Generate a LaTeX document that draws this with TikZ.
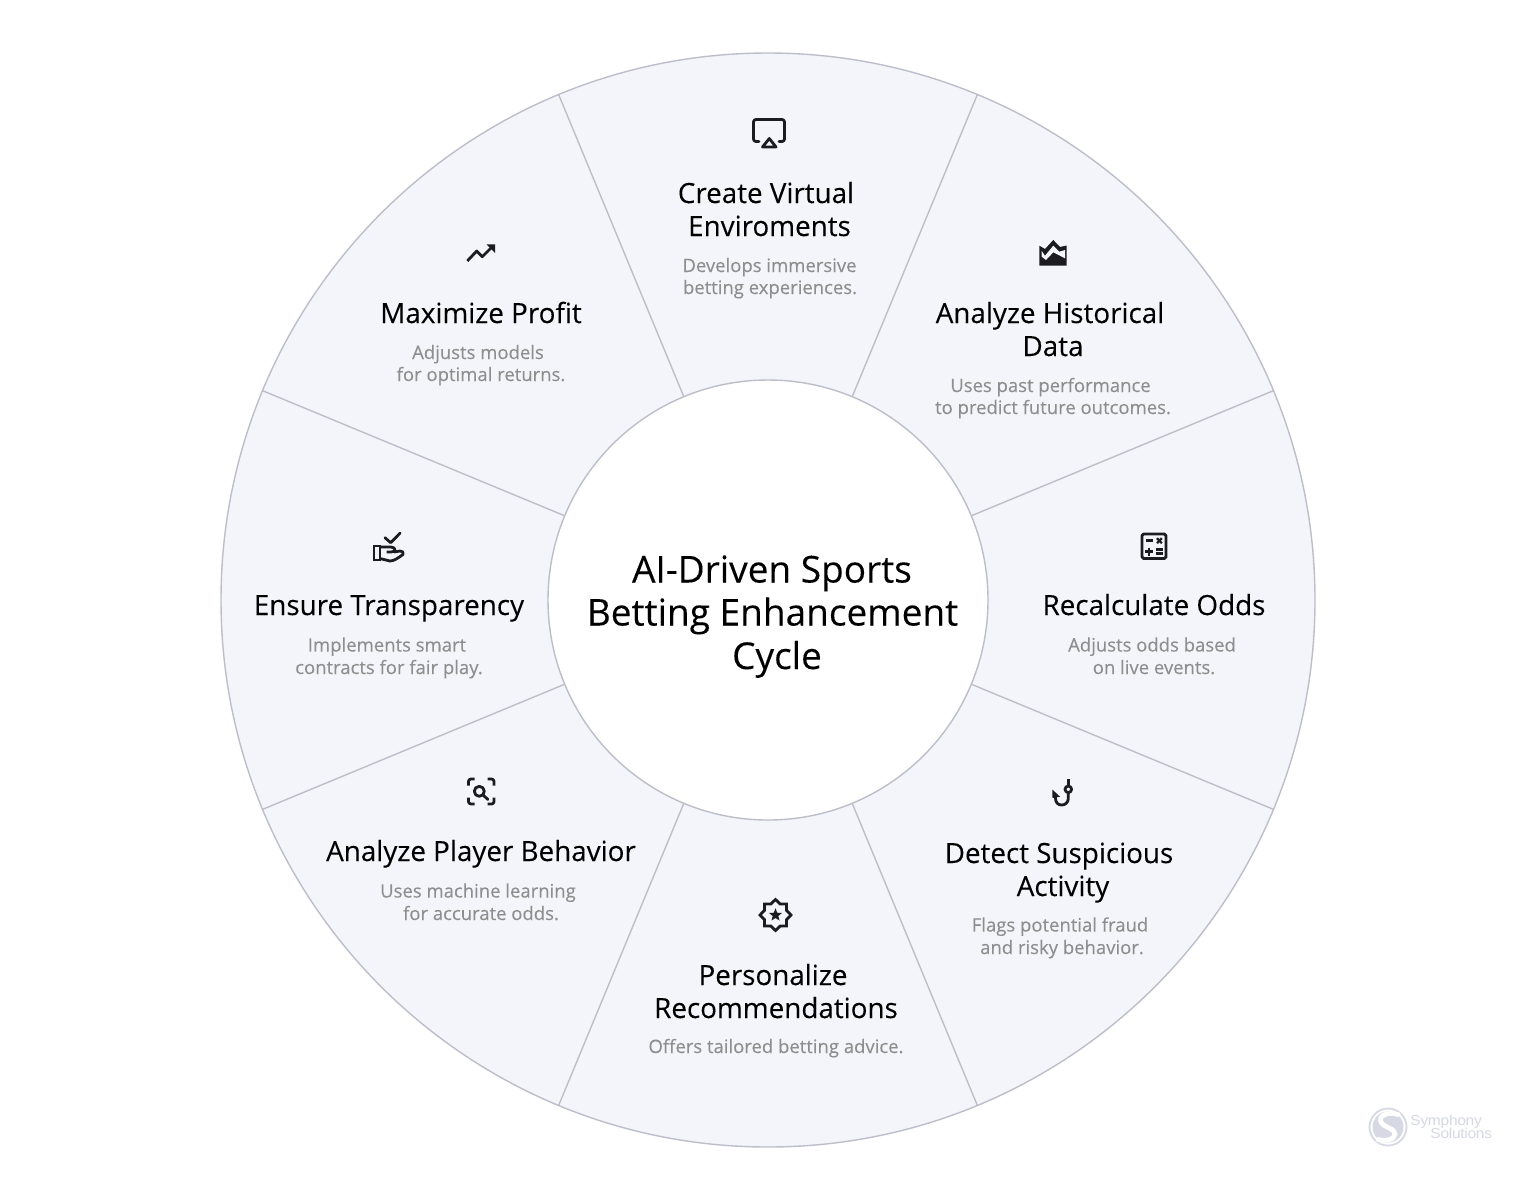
\documentclass[tikz,border=0pt]{standalone}
\usepackage{fontspec}
\setmainfont{Open Sans}
\newfontfamily\logofont[FakeStretch=1.08]{Liberation Sans}
\newfontfamily\medfont[FakeBold=0.12]{Open Sans}
\definecolor{segfill}{HTML}{F3F5FA}
\definecolor{segline}{HTML}{BDBEC9}
\definecolor{subtxt}{HTML}{8E8E8E}
\definecolor{icon}{HTML}{1C1C20}
\definecolor{logoc}{HTML}{D6D9E3}
\tikzset{
 ttl/.style={anchor=base,inner sep=0pt,text=black,font=\medfont\fontsize{13.9}{14}\selectfont},
 subt/.style={anchor=base,inner sep=0pt,text=subtxt,font=\medfont\fontsize{9.25}{9}\selectfont},
 ctr/.style={anchor=base,inner sep=0pt,text=black,font=\medfont\fontsize{18.5}{18}\selectfont},
 ic/.style={draw=icon,line width=1.4pt,line join=round,line cap=round,fill=none},
 logot/.style={anchor=base west,inner sep=0pt,text=logoc,font=\logofont\fontsize{7.2}{8}\selectfont}
}
\begin{document}
\begin{tikzpicture}[x=0.5pt,y=-0.5pt]
\useasboundingbox[fill=white] (0,0) rectangle (1536,1200);
% ring
\fill[segfill,draw=segline,line width=0.7pt] (768,600) circle[radius=547];
\foreach \a in {22.5,67.5,...,337.5}{
 \draw[segline,line width=0.7pt] ({768+220*cos(\a)},{600+220*sin(\a)}) -- ({768+547*cos(\a)},{600+547*sin(\a)});
}
\fill[white,draw=segline,line width=0.7pt] (768,600) circle[radius=220];
% centre
\node[ctr] (c1) at (772,582.5) {AI-Driven Sports};
\node[ctr] (c2) at (772.5,625.5) {Betting Enhancement};
\node[ctr] (c3) at (777,669) {Cycle};
% texts
\node[ttl] (a1) at (766,203) {Create Virtual};
\node[ttl] (a2) at (769.5,236) {Enviroments};
\node[subt] (a3) at (769.5,272) {Develops immersive};
\node[subt] (a4) at (770,294) {betting experiences.};
\node[ttl] (b1) at (1050,323) {Analyze Historical};
\node[ttl] (b2) at (1053,356) {Data};
\node[subt] (b3) at (1050.5,392) {Uses past performance};
\node[subt] (b4) at (1053,414) {to predict future outcomes.};
\node[ttl] (d1) at (1154,615) {Recalculate Odds};
\node[subt] (d3) at (1152,651.5) {Adjusts odds based};
\node[subt] (d4) at (1154,674) {on live events.};
\node[ttl] (e1) at (1059,863) {Detect Suspicious};
\node[ttl] (e2) at (1063,896) {Activity};
\node[subt] (e3) at (1060,931.5) {Flags potential fraud};
\node[subt] (e4) at (1062,954) {and risky behavior.};
\node[ttl] (f1) at (773,985) {Personalize};
\node[ttl] (f2) at (776,1018) {Recommendations};
\node[subt] (f3) at (776,1053) {Offers tailored betting advice.};
\node[ttl] (g1) at (481,861) {Analyze Player Behavior};
\node[subt] (g3) at (478,897.5) {Uses machine learning};
\node[subt] (g4) at (481,920) {for accurate odds.};
\node[ttl] (h1) at (389,615) {Ensure Transparency};
\node[subt] (h3) at (387,651.5) {Implements smart};
\node[subt] (h4) at (389,674) {contracts for fair play.};
\node[ttl] (i1) at (481,323) {Maximize Profit};
\node[subt] (i3) at (478,359) {Adjusts models};
\node[subt] (i4) at (481,381) {for optimal returns.};
% icon: airplay
\draw[ic,rounded corners=1.2] (759,141.5) -- (753.5,141.5) -- (753.5,119.5) -- (784.5,119.5) -- (784.5,141.5) -- (779,141.5);
\draw[ic] (769.3,138.5) -- (776,147) -- (762.5,147) -- cycle;
% icon: mountain
\fill[icon] (1039.3,245.7) -- (1045,249) -- (1053.3,240) -- (1060,247) -- (1066.7,245.5) -- (1066.7,265.7) -- (1039.3,265.7) -- cycle;
\fill[segfill] (1041.7,251) -- (1045,255.7) -- (1053.3,245.7) -- (1059.3,251.7) -- (1065,250) -- (1065,258.3) -- (1053.3,252.3) -- (1046,260) -- (1041.7,256.7) -- cycle;
% icon: calculator
\draw[ic,rounded corners=0.8] (1142,534) rectangle (1166,558.5);
\draw[ic,line cap=butt] (1146,540.7) -- (1152.5,540.7);
\draw[ic,line cap=butt,line width=1.1pt] (1157,538.2) -- (1161.8,543.2) (1161.8,538.2) -- (1157,543.2);
\draw[ic,line cap=butt] (1145,551.7) -- (1153,551.7) (1149,547.7) -- (1149,555.7);
\draw[ic,line cap=butt] (1155.7,549.3) -- (1163.3,549.3) (1155.7,553.5) -- (1163.3,553.5);
% icon: hook
\draw[ic,line cap=butt] (1068.3,778.5) -- (1068.3,785.8);
\draw[ic] (1068.3,789.3) circle[radius=3.3];
\draw[ic,line cap=butt] (1068.3,792.6) -- (1068.3,798.5) .. controls (1068.3,802.5) and (1065,805) .. (1061.7,805) .. controls (1058,805) and (1055.5,802.5) .. (1055.5,798.5) -- (1055.3,794);
\fill[icon] (1052.3,789.5) -- (1060,796.7) -- (1052.5,798) -- cycle;
% icon: badge
\draw[ic,line join=miter] (775.5,899.5) -- (780.1,903.9) -- (786.5,904) -- (786.6,910.4) -- (791,915) -- (786.6,919.6) -- (786.5,926) -- (780.1,926.1) -- (775.5,930.5) -- (770.9,926.1) -- (764.5,926) -- (764.4,919.6) -- (760,915) -- (764.4,910.4) -- (764.5,904) -- (770.9,903.9) -- cycle;
\fill[icon] (775.5,908.3) -- (777.2,912.7) -- (781.9,913) -- (778.3,916) -- (779.5,920.5) -- (775.5,918) -- (771.5,920.5) -- (772.7,916) -- (769.1,913) -- (773.8,912.7) -- cycle;
% icon: search frame
\draw[ic,line cap=butt,rounded corners=1.2] (468.5,785.5) -- (468.5,779) -- (474.5,779);
\draw[ic,line cap=butt,rounded corners=1.2] (487.5,779) -- (494,779) -- (494,785.5);
\draw[ic,line cap=butt,rounded corners=1.2] (468.5,797.5) -- (468.5,804) -- (474.5,804);
\draw[ic,line cap=butt,rounded corners=1.2] (487.5,804) -- (494,804) -- (494,797.5);
\draw[ic] (479.3,791.3) circle[radius=5];
\draw[ic] (483,795) -- (488,799.5);
% icon: hand with check
\draw[ic] (385,537.7) -- (390.7,542.7) -- (400.2,533);
\draw[ic,line join=miter,line cap=butt] (374,546) rectangle (380,560);
\draw[ic,line cap=butt] (380,547) -- (391,547) .. controls (393.5,547) and (395,548.5) .. (395,549.7) .. controls (395,551) and (393.5,552) .. (391,552) -- (386.5,552);
\draw[ic,line cap=butt] (394,552) -- (400,551) .. controls (402.5,550.7) and (404,552.5) .. (403,554.5) .. controls (398,558) and (394,561) .. (390,561) -- (380,558.5);
% icon: trend
\draw[ic,line cap=butt] (467.3,261) -- (476.7,251) -- (482.3,256.7) -- (492,247);
\fill[icon] (486.5,244.3) -- (495,244.3) -- (495,253) -- cycle;
% logo
\draw[logoc,line width=0.9pt] (1388,1127) circle[radius=18.5];
\fill[logoc] (1388,1127) circle[radius=15.5];
\draw[white,line width=2.4pt,line cap=round] (1398,1114.5) .. controls (1388,1111) and (1378,1116) .. (1381,1122) .. controls (1384,1128) and (1395,1128) .. (1395,1134) .. controls (1395,1139) and (1386,1142) .. (1378,1139.5);
\node[logot] (l1) at (1410,1125) {\addfontfeature{LetterSpace=-2}Symphony};
\node[logot] (l2) at (1430,1138.5) {\addfontfeature{LetterSpace=-2}Solutions};
\end{tikzpicture}
\end{document}
